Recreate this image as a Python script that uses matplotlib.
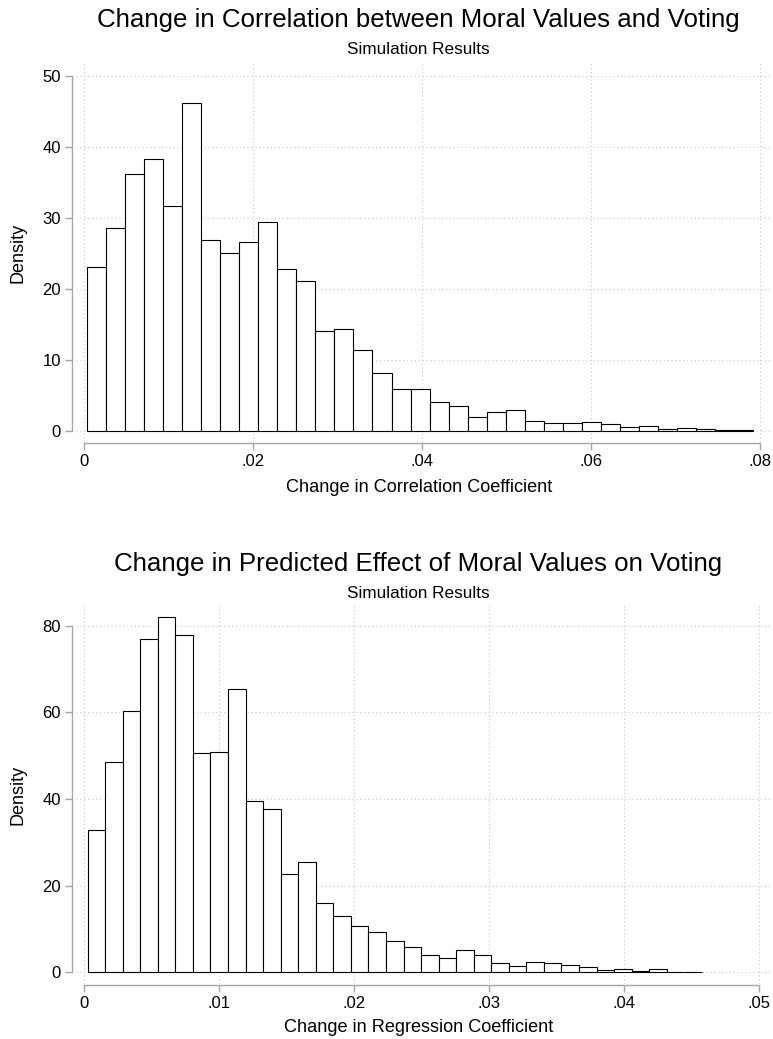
import numpy as np
import matplotlib
matplotlib.use("Agg")
import matplotlib.pyplot as plt

plt.rcParams['font.family'] = ['Liberation Sans', 'DejaVu Sans']

# histogram 1: change in correlation coefficient
corr_start = 0.00032
corr_width = 0.002254
corr_density = [23.1, 28.5, 36.2, 38.25, 31.6, 46.2, 26.9, 25.1, 26.6, 29.4,
                22.8, 21.1, 14.1, 14.3, 11.4, 8.2, 5.95, 5.85, 4.1, 3.5,
                1.9, 2.7, 3.0, 1.45, 1.17, 1.17, 1.3, 1.03, 0.56, 0.7,
                0.33, 0.47, 0.28, 0.1, 0.1]
corr_xticks = [0, 0.02, 0.04, 0.06, 0.08]
corr_xlabels = ['0', '.02', '.04', '.06', '.08']
corr_yticks = [0, 10, 20, 30, 40, 50]

# histogram 2: change in regression coefficient
reg_start = 0.000246
reg_width = 0.0013
reg_density = [32.8, 48.6, 60.2, 76.9, 81.9, 77.9, 50.5, 50.8, 65.4, 39.6,
               37.8, 22.8, 25.4, 15.9, 12.9, 10.6, 9.3, 7.2, 5.9, 4.0,
               3.3, 5.2, 4.0, 2.1, 1.5, 2.3, 2.1, 1.7, 1.15, 0.6,
               0.8, 0.4, 0.8, 0.15, 0.15]
reg_xticks = [0, 0.01, 0.02, 0.03, 0.04, 0.05]
reg_xlabels = ['0', '.01', '.02', '.03', '.04', '.05']
reg_yticks = [0, 20, 40, 60, 80]

W, H = 773, 1039
fig = plt.figure(figsize=(W / 100, H / 100), dpi=100)


def px_axes(x0, y0, x1, y1):
    # axes from pixel box (top-left origin)
    return fig.add_axes([x0 / W, 1 - y1 / H, (x1 - x0) / W, (y1 - y0) / H])


def hist_panel(ax, start, width, dens, xticks, xlabels, yticks, xlim, ylim):
    edges = start + width * np.arange(len(dens))
    ax.bar(edges, dens, width=width, align='edge', color='white',
           edgecolor='black', linewidth=0.8, zorder=3)
    ax.set_xlim(*xlim)
    ax.set_ylim(*ylim)
    ax.set_xticks(xticks)
    ax.set_xticklabels(xlabels)
    ax.set_yticks(yticks)
    ax.grid(True, linestyle=(0, (1, 2.5)), color='#c8c8c8', linewidth=0.8)
    ax.set_axisbelow(True)
    for s in ['top', 'right']:
        ax.spines[s].set_visible(False)
    ax.spines['left'].set_position(('outward', 2.9))
    ax.spines['bottom'].set_position(('outward', 0.5))
    ax.spines['left'].set_bounds(yticks[0], yticks[-1])
    ax.spines['bottom'].set_bounds(xticks[0], xticks[-1])
    for s in ['left', 'bottom']:
        ax.spines[s].set_color('#a6a6a6')
        ax.spines[s].set_linewidth(1.0)
    ax.tick_params(length=5, width=1.0, color='#a6a6a6', labelsize=12,
                   pad=3)


ax1 = px_axes(76, 63, 772, 442)
hist_panel(ax1, corr_start, corr_width, corr_density, corr_xticks,
           corr_xlabels, corr_yticks, (-0.000947, 0.0814), (-1.55, 51.76))

ax2 = px_axes(76, 604, 772, 984)
hist_panel(ax2, reg_start, reg_width, reg_density, reg_xticks,
           reg_xlabels, reg_yticks, (-0.000615, 0.05094), (-2.7, 85.0))

cx = 418 / W
fig.text(cx, 1 - 20 / H, 'Change in Correlation between Moral Values and Voting',
         ha='center', va='center', fontsize=18.6)
fig.text(cx, 1 - 49 / H, 'Simulation Results', ha='center', va='center',
         fontsize=12.3)
fig.text(419 / W, 1 - 487 / H, 'Change in Correlation Coefficient',
         ha='center', va='center', fontsize=13.1)
fig.text(18.5 / W, 1 - 253 / H, 'Density', ha='center', va='center',
         rotation=90, fontsize=13)

fig.text(cx, 1 - 564 / H, 'Change in Predicted Effect of Moral Values on Voting',
         ha='center', va='center', fontsize=18.6)
fig.text(cx, 1 - 593 / H, 'Simulation Results', ha='center', va='center',
         fontsize=12.3)
fig.text(419 / W, 1 - 1027 / H, 'Change in Regression Coefficient',
         ha='center', va='center', fontsize=13.1)
fig.text(18.5 / W, 1 - 795 / H, 'Density', ha='center', va='center',
         rotation=90, fontsize=13)

fig.savefig('out.png', dpi=100)
